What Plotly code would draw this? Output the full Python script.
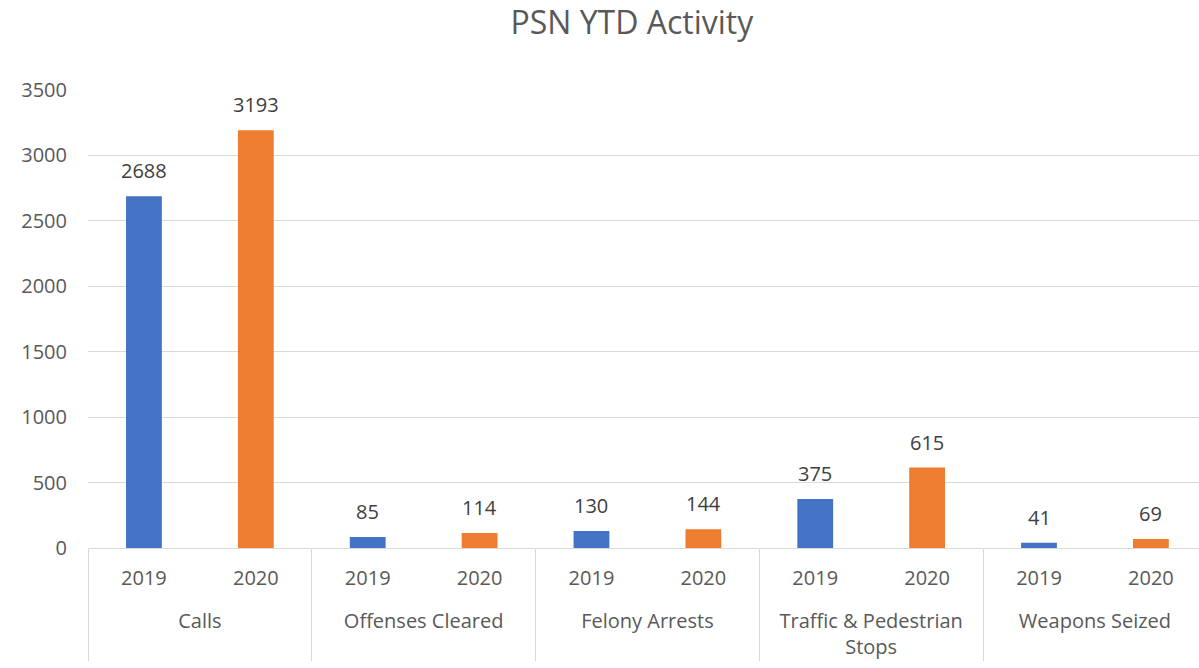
import plotly.graph_objects as go

groups = ["Calls", "Offenses Cleared", "Felony Arrests", "Traffic & Pedestrian<br>Stops", "Weapons Seized"]
years = ["2019", "2020"]
values_2019 = [2688, 85, 130, 375, 41]
values_2020 = [3193, 114, 144, 615, 69]
colors = {"2019": "#4472C4", "2020": "#ED7D31"}

outer, inner, vals, cols = [], [], [], []
for g, a, b in zip(groups, values_2019, values_2020):
    for y, v in zip(years, (a, b)):
        outer.append("<br>" + g)
        inner.append(y)
        vals.append(v)
        cols.append(colors[y])

FONT = "Open Sans"
fig = go.Figure(go.Bar(
    x=[outer, inner], y=vals, marker=dict(color=cols, line=dict(width=0)),
    showlegend=False, hoverinfo="y",
))
for i, v in enumerate(vals):
    fig.add_annotation(x=i, y=v, text=str(v), showarrow=False, yanchor="bottom", yshift=10,
                       font=dict(family=FONT, size=20, color="#404040"))

fig.update_layout(
    width=1199, height=668,
    paper_bgcolor="white", plot_bgcolor="white",
    title=dict(text="PSN YTD Activity", x=0.527, xanchor="center", y=0.966, yanchor="middle",
               font=dict(family=FONT, size=32, color="#595959")),
    margin=dict(l=88, r=0, t=90, b=120, autoexpand=False),
    bargap=0.68,
    font=dict(family=FONT, size=20, color="#595959"),
)
fig.update_xaxes(type="multicategory", range=[-0.5, 9.43], showline=True, linecolor="#d9d9d9", linewidth=1,
                 showdividers=True, dividercolor="#d9d9d9", dividerwidth=1, ticks="",
                 ticklabelstandoff=12, automargin=False,
                 tickfont=dict(family=FONT, size=20, color="#595959"))
fig.update_yaxes(range=[0, 3500], dtick=500, showgrid=True, gridcolor="#d9d9d9", gridwidth=1,
                 zeroline=False, showline=False, ticklabelstandoff=20, automargin=False,
                 tickfont=dict(family=FONT, size=20, color="#595959"))
fig.write_html("out.html", config={"displayModeBar": False},
               post_script="document.body.style.margin='0px';document.body.style.overflow='hidden';")
